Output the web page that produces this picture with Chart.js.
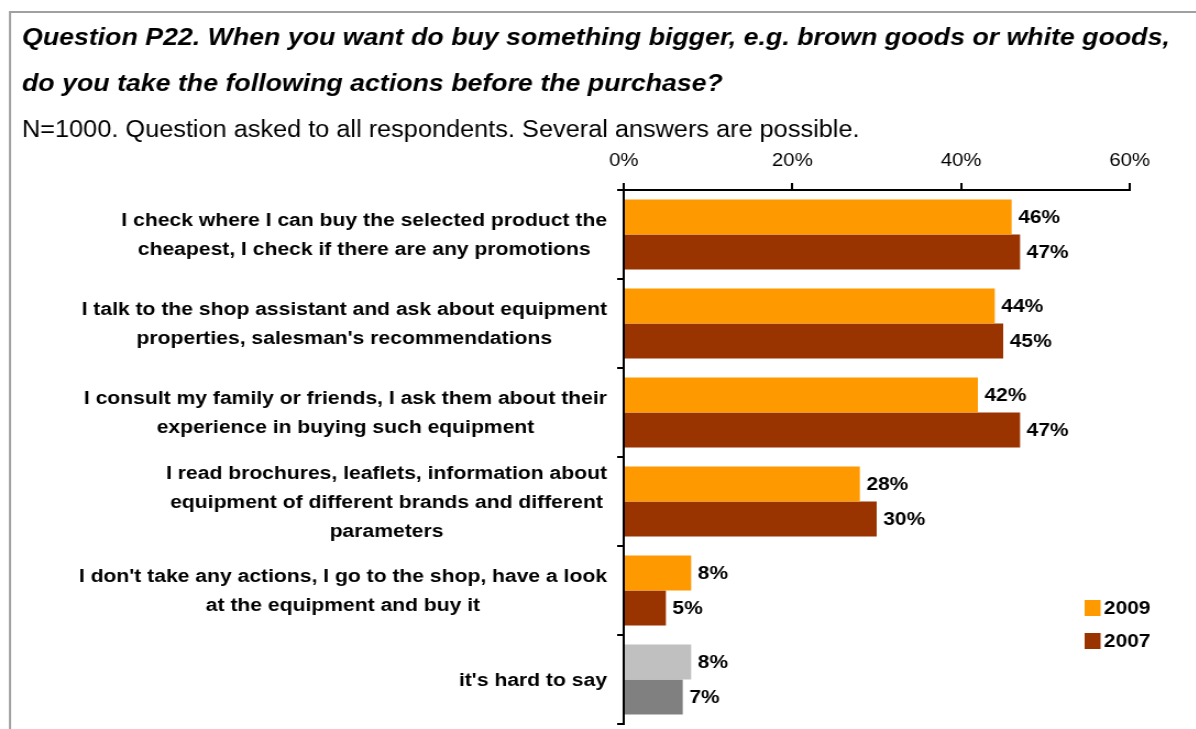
<!DOCTYPE html>
<html>
<head>
<meta charset="utf-8">
<script src="https://cdn.jsdelivr.net/npm/chart.js@4/dist/chart.umd.min.js"></script>
<style>
  html, body { margin: 0; padding: 0; background: #fff; overflow: hidden; }
  #wrap { position: absolute; left: 0; top: 0; width: 1196px; height: 729px; }
  /* the survey layout uses a slightly widened typeface */
  #c { position: absolute; left: 0; top: 0; transform: scaleX(1.1); transform-origin: 0 0; }
</style>
</head>
<body>
<div id="wrap"><canvas id="c" width="1087" height="729"></canvas></div>
<script>
const titleLines = [
  'Question P22. When you want do buy something bigger, e.g. brown goods or white goods,',
  'do you take the following actions before the purchase?'
];
const subtitleText = 'N=1000. Question asked to all respondents. Several answers are possible.';

const categories = [
  ['I check where I can buy the selected product the', 'cheapest, I check if there are any promotions'],
  ['I talk to the shop assistant and ask about equipment', "properties, salesman's recommendations"],
  ['I consult my family or friends, I ask them about their', 'experience in buying such equipment'],
  ['I read brochures, leaflets, information about', 'equipment of different brands and different', 'parameters'],
  ["I don't take any actions, I go to the shop, have a look", 'at the equipment and buy it'],
  ["it's hard to say"]
];
const seriesNames = ['2009', '2007'];
const values2009 = [46, 44, 42, 28, 8, 8];
const values2007 = [47, 45, 47, 30, 5, 7];
const colors2009 = ['#FF9900', '#FF9900', '#FF9900', '#FF9900', '#FF9900', '#C0C0C0'];
const colors2007 = ['#993300', '#993300', '#993300', '#993300', '#993300', '#808080'];
const xTicks = [0, 20, 40, 60];

const FAMILY = '"Liberation Sans", Arial, Helvetica, sans-serif';

function drawJustified(ctx, text, x0, x1, y) {
  const words = text.split(' ');
  const widths = words.map(w => ctx.measureText(w).width);
  const total = widths.reduce((a, b) => a + b, 0);
  let gap = (x1 - x0 - total) / (words.length - 1);
  const sp = ctx.measureText(' ').width;
  if (gap < sp) gap = sp;
  let x = x0;
  words.forEach((w, i) => { ctx.fillText(w, x, y); x += widths[i] + gap; });
}

const frameAndText = {
  id: 'frameAndText',
  afterDraw(chart) {
    const ctx = chart.ctx;
    ctx.save();
    // frame
    ctx.strokeStyle = '#a0a0a0';
    ctx.lineWidth = 2;
    ctx.beginPath();
    ctx.moveTo(chart.width, 12);
    ctx.lineTo(9.1, 12);
    ctx.lineTo(9.1, chart.height);
    ctx.stroke();
    // heading
    ctx.fillStyle = '#000';
    ctx.textBaseline = 'alphabetic';
    ctx.textAlign = 'left';
    ctx.font = 'italic bold 24.3px ' + FAMILY;
    drawJustified(ctx, titleLines[0], 20, 1061.8, 45);
    ctx.fillText(titleLines[1], 20, 91);
    ctx.font = '23px ' + FAMILY;
    ctx.fillText(subtitleText, 20, 137);

    // category labels: block right-aligned, lines centred
    const yScale = chart.scales.y;
    ctx.font = 'bold 19.2px ' + FAMILY;
    ctx.textAlign = 'center';
    ctx.textBaseline = 'middle';
    const right = 551.8, lh = 29;
    categories.forEach((lines, i) => {
      const cy = yScale.getPixelForValue(i);
      const w = Math.max(...lines.map(l => ctx.measureText(l).width));
      const cx = right - w / 2;
      lines.forEach((l, j) => {
        ctx.fillText(l, cx, cy + 1 + (j - (lines.length - 1) / 2) * lh);
      });
    });

    // value labels
    ctx.font = 'bold 19px ' + FAMILY;
    ctx.textAlign = 'left';
    chart.data.datasets.forEach((ds, di) => {
      chart.getDatasetMeta(di).data.forEach((bar, i) => {
        ctx.fillText(ds.data[i] + '%', bar.x + 6, bar.y + 1);
      });
    });

    // legend
    const legendY = [608, 641];
    ctx.font = 'bold 19px ' + FAMILY;
    ctx.textBaseline = 'middle';
    chart.data.datasets.forEach((ds, di) => {
      ctx.fillStyle = ds.backgroundColor[0];
      ctx.fillRect(986, legendY[di] - 8, 14.5, 16);
      ctx.fillStyle = '#000';
      ctx.fillText(seriesNames[di], 1003.6, legendY[di] + 1);
    });
    ctx.restore();
  }
};

new Chart(document.getElementById('c'), {
  type: 'bar',
  data: {
    labels: categories,
    datasets: [
      { label: seriesNames[0], data: values2009, backgroundColor: colors2009, categoryPercentage: 0.785, barPercentage: 1 },
      { label: seriesNames[1], data: values2007, backgroundColor: colors2007, categoryPercentage: 0.785, barPercentage: 1 }
    ]
  },
  options: {
    indexAxis: 'y',
    responsive: false,
    animation: false,
    layout: { padding: { top: 140, left: 0, right: 60, bottom: 5 } },
    plugins: { legend: { display: false }, tooltip: { enabled: false } },
    scales: {
      x: {
        position: 'top',
        min: xTicks[0],
        max: xTicks[xTicks.length - 1],
        afterBuildTicks(s) { s.ticks = xTicks.map(v => ({ value: v })); },
        ticks: { callback: v => v + '%', color: '#000', padding: 11, font: { size: 18.5, family: FAMILY } },
        grid: { drawOnChartArea: false, drawTicks: true, tickLength: 7, color: '#000', lineWidth: 2 },
        border: { color: '#000', width: 2 },
        afterFit(s) { s.height = 50; }
      },
      y: {
        ticks: { display: false },
        grid: { drawOnChartArea: false, drawTicks: true, tickLength: 6, color: '#000', lineWidth: 2, offset: true },
        border: { color: '#000', width: 2 },
        afterFit(s) { s.width = 567; }
      }
    }
  },
  plugins: [frameAndText]
});
</script>
</body>
</html>
